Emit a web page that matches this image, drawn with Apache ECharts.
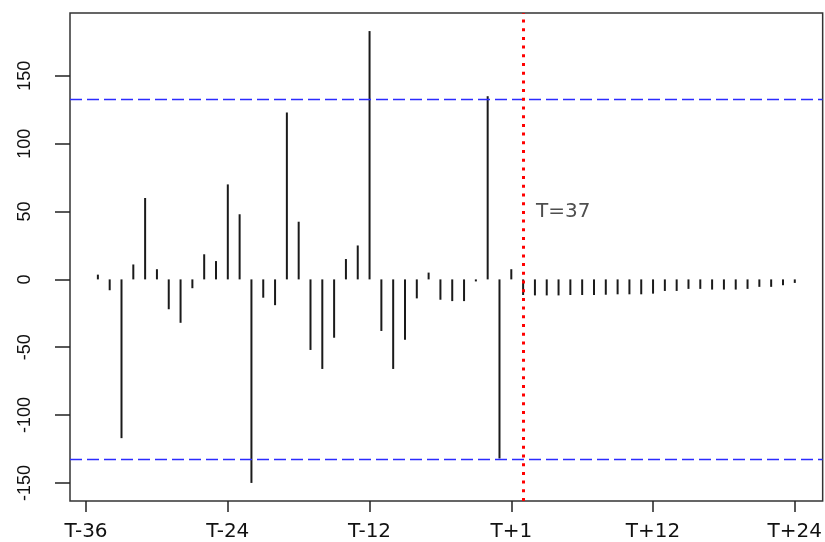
<!DOCTYPE html>
<html><head><meta charset="utf-8">
<script src="https://cdn.jsdelivr.net/npm/echarts@6/dist/echarts.min.js"></script>
<style>html,body{margin:0;padding:0;background:#fff}#c{width:825px;height:542px}</style>
</head><body><div id="c"></div>
<script>
// lag positions (x) of each spike
const positions = [1,2,3,4,5,6,7,8,9,10,11,12,13,14,15,16,17,18,19,20,
  21,22,23,24,25,26,27,28,29,30,31,32,33,34,35,36,37,38,39,40,
  41,42,43,44,45,46,47,48,49,50,51,52,53,54,55,56,57,58,59,60];
// observed values (T-35 .. T)
const observed = [3.5, -8, -117, 11, 60, 7.5, -22, -32, -6.5, 18.5, 13.5, 70, 48, -150, -13.5, -19,
  123, 42.5, -52, -66, -43, 15, 25, 183, -38, -66, -44.5, -14, 5, -15, -16, -16, -1.5, 135, -132, 7.5];
// values after the break (T+1 .. T+24)
const forecast = [-11.5, -11.8, -11.8, -11.8, -11.5, -11.5, -11.5, -11.3, -11, -11, -11, -10.5,
  -8.5, -8.5, -7, -7, -7.5, -7.5, -7.5, -7, -5.5, -5.5, -4.3, -2.6];
const xTickValues = [0, 12, 24, 36, 48, 60];
const xTickLabels = ['T-36', 'T-24', 'T-12', 'T+1', 'T+12', 'T+24'];
const yTickValues = [-150, -100, -50, 0, 50, 100, 150];
const bandLimits = [132.5, -132.5];
const breakAt = 37;
const breakLabel = 'T=37';
const breakLabelPos = [38.1, 50];
const xRange = [-1.36, 62.36];
const yRange = [-163.32, 196.32];

const values = observed.concat(forecast);
const spikeData = positions.map((p, i) => [p, values[i]]);

const chart = echarts.init(document.getElementById('c'), null, {renderer: 'canvas'});
chart.setOption({
  animation: false,
  backgroundColor: '#fff',
  grid: {left: 70, top: 13, right: 1, bottom: 40, show: true, borderColor: '#333', borderWidth: 1.5, backgroundColor: 'transparent'},
  xAxis: {
    type: 'value', min: xRange[0], max: xRange[1], position: 'bottom',
    splitLine: {show: false}, axisLine: {show: false, onZero: false},
    axisTick: {show: true, length: 11, lineStyle: {color: '#222', width: 1.5}, customValues: xTickValues},
    axisLabel: {customValues: xTickValues, formatter: v => xTickLabels[xTickValues.indexOf(v)],
      fontFamily: 'DejaVu Sans', fontSize: 20, color: '#111', margin: 21}
  },
  yAxis: {
    type: 'value', min: yRange[0], max: yRange[1], position: 'left',
    splitLine: {show: false}, axisLine: {show: false, onZero: false},
    axisTick: {show: true, length: 15, lineStyle: {color: '#222', width: 1.5}, customValues: yTickValues},
    axisLabel: {customValues: yTickValues, rotate: 90, fontFamily: 'Liberation Sans', fontSize: 18, color: '#111', margin: 36}
  },
  series: [
    {
      type: 'custom',
      data: spikeData,
      renderItem: function (params, api) {
        const p0 = api.coord([api.value(0), 0]);
        const p1 = api.coord([api.value(0), api.value(1)]);
        return {type: 'line', shape: {x1: p0[0], y1: p0[1], x2: p1[0], y2: p1[1]},
          style: {stroke: '#1a1a1a', lineWidth: 2}};
      },
      z: 2
    },
    {
      type: 'line', data: [], z: 3,
      markLine: {
        silent: true, symbol: 'none', label: {show: false},
        data: [
          {yAxis: bandLimits[0], lineStyle: {color: '#2b2bff', width: 1.3, type: [12, 5]}},
          {yAxis: bandLimits[1], lineStyle: {color: '#2b2bff', width: 1.3, type: [12, 5]}},
          {xAxis: breakAt, lineStyle: {color: '#ff0000', width: 3, type: [3, 5.7]}}
        ]
      }
    },
    {
      type: 'scatter', symbolSize: 0, z: 4,
      data: [breakLabelPos],
      label: {show: true, position: 'right', distance: 0, formatter: breakLabel,
        fontFamily: 'DejaVu Sans', fontSize: 20, color: '#222'}
    }
  ]
});
</script>
</body></html>
